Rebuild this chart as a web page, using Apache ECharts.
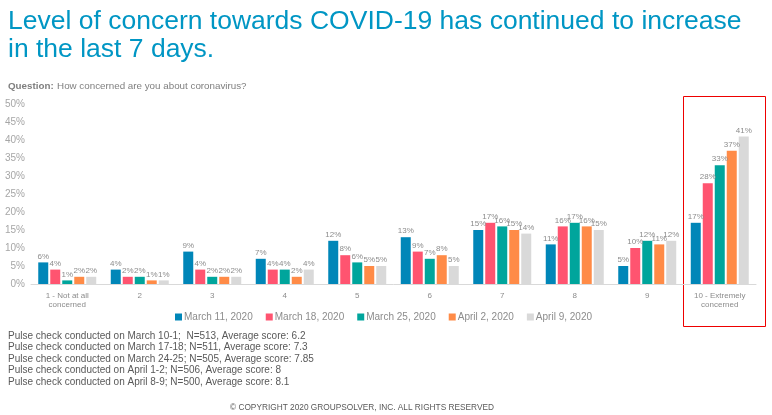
<!DOCTYPE html>
<html>
<head>
<meta charset="utf-8">
<script src="https://cdn.jsdelivr.net/npm/echarts@6/dist/echarts.min.js"></script>
<style>
  html, body { margin: 0; padding: 0; background: #fff; }
  #chart { width: 772px; height: 415px; }
</style>
</head>
<body>
<div id="chart"></div>
<script>
  // categories on the x axis
  var categories = ['1 - Not at all\nconcerned', '2', '3', '4', '5', '6', '7', '8', '9', '10 - Extremely\nconcerned']
  var seriesNames = ['March 11, 2020', 'March 18, 2020', 'March 25, 2020', 'April 2, 2020', 'April 9, 2020']
  var colors = ['#0086b8', '#ff5470', '#00a59c', '#ff8b47', '#d9d9d9']

  // percent of respondents per wave
  var mar11 = [6, 4, 9, 7, 12, 13, 15, 11, 5, 17]
  var mar18 = [4, 2, 4, 4, 8, 9, 17, 16, 10, 28]
  var mar25 = [1, 2, 2, 4, 6, 7, 16, 17, 12, 33]
  var apr2 = [2, 1, 2, 2, 5, 8, 15, 16, 11, 37]
  var apr9 = [2, 1, 2, 4, 5, 5, 14, 15, 12, 41]
  var allData = [mar11, mar18, mar25, apr2, apr9]

  var notes = [
    'Pulse check conducted on March 10-1;  N=513, Average score: 6.2',
    'Pulse check conducted on March 17-18; N=511, Average score: 7.3',
    'Pulse check conducted on March 24-25; N=505, Average score: 7.85',
    'Pulse check conducted on April 1-2; N=506, Average score: 8',
    'Pulse check conducted on April 8-9; N=500, Average score: 8.1'
  ]

  var chart = echarts.init(document.getElementById('chart'))

  var series = []
  for (var i = 0; i < seriesNames.length; i++) {
    series.push({
      name: seriesNames[i],
      type: 'bar',
      barWidth: 10,
      barGap: '20%',
      itemStyle: { color: colors[i] },
      label: {
        show: true,
        position: 'top',
        distance: 2,
        formatter: '{c}%',
        color: '#8c8c8c',
        fontSize: 8,
        fontFamily: 'Liberation Sans'
      },
      data: allData[i]
    })
  }

  chart.setOption({
    backgroundColor: '#fff',
    textStyle: { fontFamily: 'Liberation Sans' },
    title: {
      text: 'Level of concern towards COVID-19 has continued to increase\nin the last 7 days.',
      left: 3,
      top: 3,
      textStyle: {
        color: '#0096c4',
        fontSize: 26.5,
        fontWeight: 'normal',
        lineHeight: 28,
        fontFamily: 'Liberation Sans'
      }
    },
    legend: {
      data: seriesNames,
      left: 170,
      top: 307,
      itemWidth: 7,
      itemHeight: 7,
      itemGap: 13,
      icon: 'rect',
      textStyle: { color: '#8c8c8c', fontSize: 10, padding: [0, 0, 0, -3] }
    },
    grid: {
      left: 31,
      right: 16,
      top: 104,
      bottom: 131,
      containLabel: false
    },
    xAxis: {
      type: 'category',
      data: categories,
      axisTick: { show: false },
      axisLine: { lineStyle: { color: '#d9d9d9' } },
      axisLabel: {
        color: '#8c8c8c',
        fontSize: 8,
        lineHeight: 9,
        margin: 7,
        interval: 0
      }
    },
    yAxis: {
      type: 'value',
      min: 0,
      max: 50,
      interval: 5,
      axisLine: { show: false },
      axisTick: { show: false },
      splitLine: { show: false },
      axisLabel: {
        formatter: '{value}%',
        color: '#a6a6a6',
        fontSize: 10,
        margin: 6
      }
    },
    graphic: [
      {
        type: 'text',
        left: 8,
        top: 80,
        style: {
          rich: {
            b: { fontWeight: 'bold', fill: '#7f7f7f', fontSize: 9.8 },
            n: { fill: '#7f7f7f', fontSize: 9.8 }
          },
          text: '{b|Question:} {n|How concerned are you about coronavirus?}',
          fontFamily: 'Liberation Sans'
        }
      },
      {
        type: 'text',
        left: 8,
        top: 330,
        style: {
          text: notes.join('\n'),
          fill: '#595959',
          fontSize: 10,
          lineHeight: 11.5,
          fontFamily: 'Liberation Sans'
        }
      },
      {
        type: 'text',
        left: 230,
        top: 404,
        style: {
          text: '\u00a9 COPYRIGHT 2020 GROUPSOLVER, INC. ALL RIGHTS RESERVED',
          fill: '#595959',
          fontSize: 8.3,
          fontFamily: 'Liberation Sans'
        }
      },
      {
        type: 'rect',
        shape: { x: 683.5, y: 96.5, width: 82, height: 230 },
        style: { fill: 'none', stroke: '#ee0000', lineWidth: 1 }
      }
    ],
    series: series
  })
</script>
</body>
</html>
